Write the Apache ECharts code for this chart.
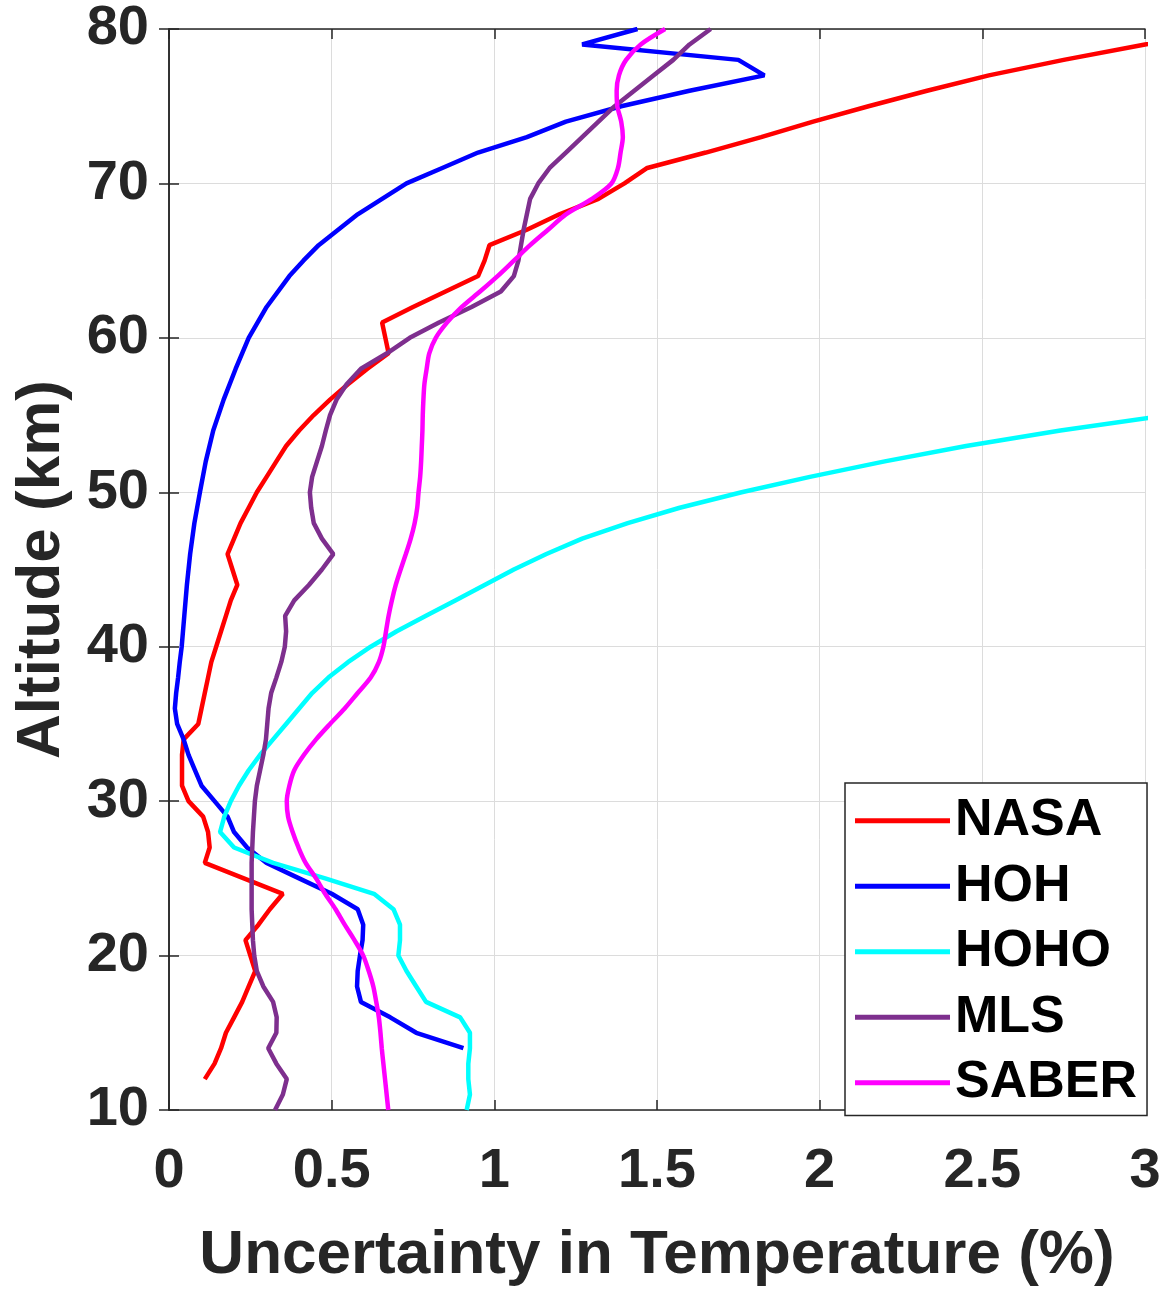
<!DOCTYPE html>
<html>
<head>
<meta charset="utf-8">
<script src="https://cdn.jsdelivr.net/npm/echarts@6/dist/echarts.min.js"></script>
<style>
html,body{margin:0;padding:0;background:#fff;}
#chart{width:1168px;height:1292px;}
</style>
</head>
<body>
<div id="chart"></div>
<script>
// ---- Data (altitude in km, uncertainty in %) ----
const seriesNames = ['NASA', 'HOH', 'HOHO', 'MLS', 'SABER'];
const seriesColors = ['#ff0000', '#0000ff', '#00ffff', '#7e2f8e', '#ff00ff'];

const nasaAlt = [12,13,14,15,16,17,18,19,20,21,22,23,24,25,26,27,28,29,30,31,32,33,34,35,36,37,38,39,40,41,42,43,44,45,46,47,48,49,50,51,52,53,54,55,56,57,58,59,60,61,62,63,64,65,66,67,68,69,70,71,72,73,74,75,76,77,78,79,80];
const nasaVal = [0.11,0.14,0.16,0.175,0.20,0.225,0.245,0.265,0.25,0.235,0.275,0.31,0.35,0.23,0.11,0.125,0.12,0.105,0.06,0.04,0.04,0.04,0.045,0.09,0.10,0.11,0.12,0.13,0.145,0.16,0.175,0.19,0.21,0.195,0.18,0.20,0.22,0.245,0.27,0.30,0.33,0.36,0.40,0.445,0.495,0.55,0.61,0.675,0.665,0.655,0.75,0.85,0.95,0.97,0.985,1.10,1.20,1.32,1.40,1.47,1.65,1.82,1.98,2.15,2.33,2.52,2.75,3.00,3.30];

const hohAlt = [14,15,16,17,18,19,20,21,22,23,24,25,26,27,28,29,30,31,32,33,34,35,36,37,38,39,40,42,44,46,48,50,52,54,56,58,60,62,64,65,66,68,70,71,72,73,74,75,76,77,78,79,80];
const hohVal = [0.905,0.76,0.68,0.59,0.578,0.58,0.587,0.595,0.597,0.58,0.50,0.40,0.30,0.24,0.20,0.18,0.14,0.10,0.08,0.06,0.045,0.025,0.018,0.022,0.028,0.033,0.039,0.047,0.055,0.065,0.078,0.095,0.113,0.136,0.168,0.205,0.245,0.30,0.37,0.413,0.46,0.58,0.73,0.84,0.95,1.10,1.22,1.39,1.60,1.83,1.75,1.27,1.44];

const hohoAlt = [10,11,12,13,14,15,16,17,18,19,20,21,22,23,24,25,26,27,28,29,30,31,32,33,34,35,36,37,38,39,40,41,42,43,44,45,46,47,48,49,50,51,52,53,54,55];
const hohoVal = [0.915,0.925,0.92,0.92,0.925,0.925,0.895,0.79,0.76,0.73,0.705,0.71,0.71,0.69,0.63,0.48,0.32,0.20,0.157,0.17,0.19,0.215,0.245,0.28,0.32,0.36,0.40,0.44,0.49,0.55,0.62,0.70,0.79,0.88,0.97,1.06,1.16,1.27,1.41,1.57,1.76,1.97,2.20,2.45,2.74,3.07];

const mlsAlt = [10,11,12,13,14,15,16,17,18,19,20,21,22,23,24,25,26,27,28,29,30,31,32,33,34,35,36,37,38,39,40,41,42,43,44,45,46,47,48,49,50,51,52,53,54,55,56,57,58,59,60,61,62,63,64,65,66,67,68,69,70,71,72,73,74,75,76,77,78,79,80];
const mlsVal = [0.326,0.35,0.362,0.33,0.305,0.33,0.331,0.32,0.29,0.27,0.262,0.258,0.256,0.254,0.254,0.254,0.254,0.256,0.258,0.261,0.264,0.27,0.28,0.29,0.298,0.302,0.306,0.314,0.33,0.345,0.356,0.36,0.357,0.385,0.43,0.47,0.505,0.47,0.445,0.437,0.433,0.44,0.455,0.47,0.482,0.495,0.515,0.546,0.59,0.67,0.74,0.83,0.93,1.02,1.06,1.074,1.082,1.09,1.10,1.11,1.135,1.17,1.22,1.27,1.32,1.37,1.43,1.49,1.55,1.60,1.665];

const saberAlt = [10,11,12,13,14,15,16,17,18,19,20,21,22,23,24,25,26,27,28,29,30,31,32,33,34,35,36,37,38,39,40,41,42,43,44,45,46,47,48,49,50,51,52,53,54,55,56,57,58,59,60,61,62,63,64,65,66,67,68,69,70,71,72,73,74,75,76,77,78,79,80];
const saberVal = [0.674,0.669,0.664,0.659,0.654,0.65,0.645,0.637,0.628,0.614,0.597,0.57,0.54,0.512,0.48,0.452,0.42,0.398,0.38,0.366,0.362,0.37,0.385,0.415,0.452,0.495,0.54,0.58,0.62,0.645,0.659,0.667,0.675,0.685,0.697,0.712,0.728,0.743,0.755,0.763,0.767,0.772,0.775,0.777,0.779,0.78,0.782,0.785,0.792,0.80,0.82,0.855,0.90,0.956,1.01,1.06,1.11,1.165,1.22,1.30,1.36,1.38,1.388,1.395,1.39,1.378,1.376,1.383,1.405,1.45,1.525];

const xTicks = ['0','0.5','1','1.5','2','2.5','3'];
const yTicks = ['10','20','30','40','50','60','70','80'];

const allAlt = [nasaAlt, hohAlt, hohoAlt, mlsAlt, saberAlt];
const allVal = [nasaVal, hohVal, hohoVal, mlsVal, saberVal];
const smoothing = [false, false, false, false, 0.3];

// ---- Chart ----
const FONT = '"Liberation Sans", Arial, Helvetica, sans-serif';
const INK = '#262626';
const chart = echarts.init(document.getElementById('chart'), null, {renderer: 'canvas'});

const axisCommon = {
  axisLine: {show: true, lineStyle: {color: INK, width: 1.5}},
  axisTick: {show: true, inside: true, length: 10, lineStyle: {color: INK, width: 1.5}}
};

const option = {
  backgroundColor: '#ffffff',
  animation: false,
  grid: {left: 169, top: 29, width: 976, height: 1087, containLabel: false},
  legend: {
    data: seriesNames,
    orient: 'vertical',
    left: 845,
    top: 783,
    icon: 'rect',
    itemWidth: 95,
    itemHeight: 5,
    itemGap: 0,
    padding: [5, 10, 0, 10],
    borderColor: INK,
    borderWidth: 1.5,
    backgroundColor: '#ffffff',
    textStyle: {fontFamily: FONT, fontWeight: 'bold', fontSize: 52, color: '#000', lineHeight: 65.5}
  },
  xAxis: [
    Object.assign({
      type: 'value', position: 'bottom', min: 0, max: 3, interval: 0.5,
      name: 'Uncertainty in Temperature (%)', nameLocation: 'middle', nameGap: 115,
      nameTextStyle: {fontFamily: FONT, fontWeight: 'bold', fontSize: 62, color: INK},
      axisLabel: {fontFamily: FONT, fontWeight: 'bold', fontSize: 56, color: INK, margin: 34,
        formatter: function (v) { return xTicks[Math.round(v / 0.5)]; }},
      splitLine: {show: true, lineStyle: {color: '#dcdcdc', width: 1}}
    }, axisCommon),
    Object.assign({
      type: 'value', position: 'top', min: 0, max: 3, interval: 0.5,
      axisLabel: {show: false}, splitLine: {show: false}
    }, axisCommon)
  ],
  yAxis: [
    Object.assign({
      type: 'value', position: 'left', min: 10, max: 80, interval: 10,
      name: 'Altitude (km)', nameLocation: 'middle', nameGap: 96, nameRotate: 90,
      nameTextStyle: {fontFamily: FONT, fontWeight: 'bold', fontSize: 62, color: INK},
      axisLabel: {fontFamily: FONT, fontWeight: 'bold', fontSize: 56, color: INK, margin: 20,
        padding: [7, 0, 0, 0],
        formatter: function (v) { return yTicks[Math.round((v - 10) / 10)]; }},
      splitLine: {show: true, lineStyle: {color: '#dcdcdc', width: 1}}
    }, axisCommon),
    Object.assign({
      type: 'value', position: 'right', min: 10, max: 80, interval: 10,
      axisLabel: {show: false}, splitLine: {show: false}
    }, axisCommon)
  ],
  series: seriesNames.map(function (name, k) {
    return {
      name: name,
      type: 'line',
      xAxisIndex: 0,
      yAxisIndex: 0,
      showSymbol: false,
      symbol: 'none',
      clip: true,
      smooth: smoothing[k],
      color: seriesColors[k],
      lineStyle: {color: seriesColors[k], width: 4.5},
      data: allAlt[k].map(function (a, i) { return [allVal[k][i], a]; })
    };
  })
};
chart.setOption(option);
</script>
</body>
</html>
